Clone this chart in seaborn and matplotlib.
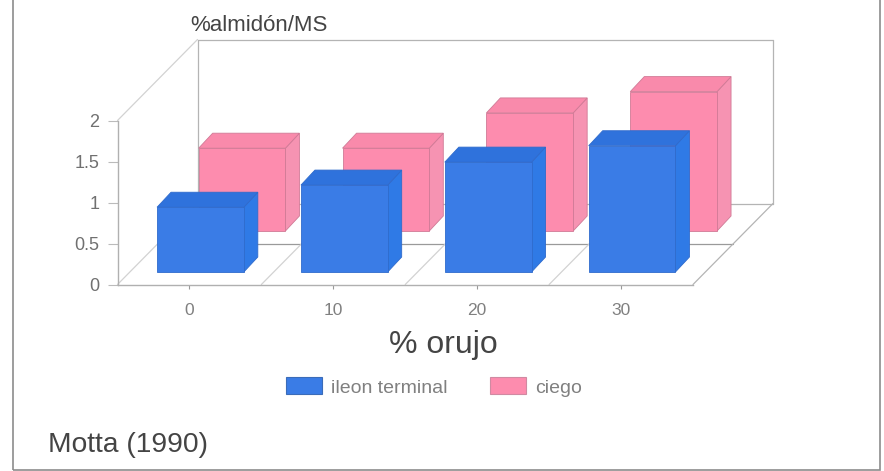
import matplotlib
matplotlib.use("Agg")
import matplotlib.pyplot as plt
from matplotlib.lines import Line2D
from matplotlib.patches import Patch, Polygon, Rectangle
import seaborn as sns

# Starch content by pomace inclusion level
orujo_levels = ["0", "10", "20", "30"]
ileon_terminal = [0.79, 1.06, 1.34, 1.54]
ciego = [1.01, 1.01, 1.44, 1.70]
y_ticks = [0, 0.5, 1, 1.5, 2]
y_tick_labels = ["0", "0.5", "1", "1.5", "2"]

W, H = 884, 471
AX_LEFT, AX_RIGHT, AX_BOTTOM, AX_TOP = 117.5, 693.0, 284.5, 120.5  # pixels

sns.set_theme(style="white")
plt.rcParams["font.family"] = ["Liberation Sans", "DejaVu Sans"]

fig = plt.figure(figsize=(W / 100, H / 100), dpi=100, facecolor="white")
ax = fig.add_axes([AX_LEFT / W, 1 - AX_BOTTOM / H,
                   (AX_RIGHT - AX_LEFT) / W, (AX_BOTTOM - AX_TOP) / H])
ax.patch.set_alpha(0)

PX_X = (AX_RIGHT - AX_LEFT) / 4     # pixels per category
PX_Y = (AX_BOTTOM - AX_TOP) / 2     # pixels per value unit


def shift(x, y, dx_px, dy_px):
    """Move a data point by an oblique offset given in pixels."""
    return x + dx_px / PX_X, y + dy_px / PX_Y


FLOOR_DX, FLOOR_DY = 80, 81         # oblique offset of the back wall
GRID = "#b4b4b4"
GRID_LIGHT = "#d2d2d2"


def rail(x0, y0, d0, x1, y1, d1, color=GRID, lw=0.9):
    p0 = shift(x0, y0, FLOOR_DX * d0, FLOOR_DY * d0)
    p1 = shift(x1, y1, FLOOR_DX * d1, FLOOR_DY * d1)
    ax.add_line(Line2D([p0[0], p1[0]], [p0[1], p1[1]], color=color, lw=lw,
                       clip_on=False, zorder=1))


def bars_3d(values, front, side, top, edge, offset, zorder):
    sns.barplot(x=orujo_levels, y=values, order=orujo_levels, color=front,
                saturation=1, width=0.603, edgecolor=edge, linewidth=0.6, ax=ax)
    depth = (14, 15)
    for bar in ax.containers[-1]:
        x0, y0 = shift(bar.get_x(), 0, *offset)
        bar.set_x(x0)
        bar.set_y(y0)
        bar.set_zorder(zorder + 0.2)
        bar.set_clip_on(False)
        w, h = bar.get_width(), bar.get_height()
        front_tl, front_tr = (x0, y0 + h), (x0 + w, y0 + h)
        front_br = (x0 + w, y0)
        side_face = [front_br, front_tr, shift(*front_tr, *depth), shift(*front_br, *depth)]
        top_face = [front_tl, front_tr, shift(*front_tr, *depth), shift(*front_tl, *depth)]
        for verts, col in ((side_face, side), (top_face, top)):
            ax.add_patch(Polygon(verts, closed=True, facecolor=col, edgecolor=edge,
                                 linewidth=0.6, clip_on=False, zorder=zorder))


# Back wall and floor of the oblique box
rail(-0.5, 0, 1, 3.5, 0, 1)
rail(-0.5, 2, 1, 3.5, 2, 1)
rail(-0.5, 0, 1, -0.5, 2, 1)
rail(3.5, 0, 1, 3.5, 2, 1)
rail(-0.5, 0, 0.5, 3.5, 0, 0.5, color="#9a9a9a")
rail(-0.5, 2, 0, -0.5, 2, 1, color=GRID_LIGHT)
for boundary in (-0.5, 0.5, 1.5, 2.5, 3.5):
    rail(boundary, 0, 0, boundary, 0, 1, color=GRID_LIGHT if boundary < 3 else GRID)

bars_3d(ciego, "#fd8cae", "#f693b2", "#f98aab", "#d07a96", (52.6, 53.5), 2)
bars_3d(ileon_terminal, "#3a7ce6", "#2f7ae6", "#2f72dc", "#2f6bcc", (11.0, 12.5), 3)

ax.set_xlim(-0.5, 3.5)
ax.set_ylim(0, 2)
ax.set_yticks(y_ticks, y_tick_labels)
ax.set_xlabel("% orujo", fontsize=23, color="#444444", labelpad=0)
ax.xaxis.set_label_coords((443 - AX_LEFT) / (AX_RIGHT - AX_LEFT), -(353 - AX_BOTTOM) / (AX_BOTTOM - AX_TOP))
ax.xaxis.label.set_va("baseline")
ax.set_ylabel("")
ax.tick_params(axis="x", length=3, width=0.8, color="#999999", labelsize=12.5,
               labelcolor="#808080", pad=10, bottom=True)
ax.tick_params(axis="y", length=7, width=0.8, color="#bbbbbb", labelsize=13,
               labelcolor="#707070", pad=6, left=True)
for name, spine in ax.spines.items():
    spine.set_visible(name in ("left", "bottom"))
    spine.set_color("#b0b0b0")
    spine.set_linewidth(1.0)


def fx(px):
    return px / W


def fy(px):
    return 1 - px / H


fig.text(fx(190), fy(31), "%almidón/MS", fontsize=16, color="#444444", va="baseline")
fig.text(fx(48), fy(452), "Motta (1990)", fontsize=20.3, color="#444444", va="baseline")

handles = [Patch(facecolor="#3a7ce6", edgecolor="#3b6cb8", linewidth=0.8, label="ileon terminal"),
           Patch(facecolor="#fd8cae", edgecolor="#d08aa2", linewidth=0.8, label="ciego")]
fig.legend(handles=handles, loc="center", bbox_to_anchor=(fx(434), fy(387)), ncol=2,
           frameon=False, fontsize=14, labelcolor="#808080", handlelength=1.86,
           handleheight=0.95, handletextpad=0.45, columnspacing=2.2, borderpad=0)

# Outer frame, open at the top edge of the page
fig.add_artist(Rectangle((fx(12.5), fy(470)), fx(880 - 12.5), 1.1, fill=False,
                         edgecolor="#8c8c8c", linewidth=1.2, transform=fig.transFigure))

fig.savefig("out.png", dpi=100)
